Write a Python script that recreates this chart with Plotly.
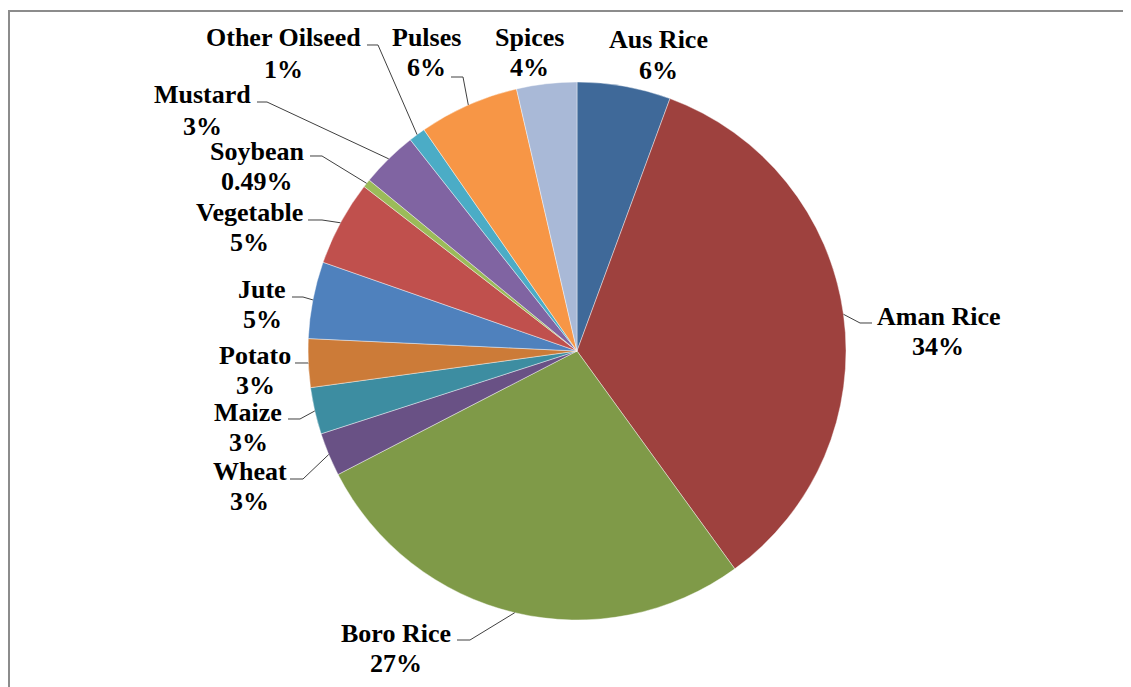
import numpy as np
import plotly.graph_objects as go

# ---------------- data ----------------
crops = ["Aus Rice", "Aman Rice", "Boro Rice", "Wheat", "Maize", "Potato", "Jute",
         "Vegetable", "Soybean", "Mustard", "Other Oilseed", "Pulses", "Spices"]
values = [5.6, 34.3, 27.3, 2.6, 2.8, 2.9, 4.6, 5.1, 0.49, 3.4, 1.0, 6.0, 3.6]
pct_labels = ["6%", "34%", "27%", "3%", "3%", "3%", "5%", "5%", "0.49%", "3%", "1%", "6%", "4%"]
colors = ["#3F6999", "#9E413E", "#7F9A48", "#695185", "#3D8DA1", "#CC7B38", "#4F81BD",
          "#C0504D", "#9BBB59", "#8064A2", "#4BACC6", "#F79646", "#A9B9D7"]

# ---------------- layout constants ----------------
W, H = 1131, 687
OFF = 8  # page body margin in the browser
CX, CY, R = 577, 351, 269
FONT = dict(family="Liberation Serif, Times New Roman, serif", size=26, color="black")

# label placement (screen pixels): name centre x, name centre y, percent centre y,
# leader elbow points (from text towards the slice), or None
label_pos = {
    "Aus Rice":      (658, 39, 70, None),
    "Aman Rice":     (938, 315, 345, [(872, 323), (860, 323)]),
    "Boro Rice":     (396, 632, 662, [(457, 640), (470, 640)]),
    "Wheat":         (250, 470, 500, [(290, 479), (303, 479)]),
    "Maize":         (248, 411, 441, [(288, 419), (300, 419)]),
    "Potato":        (255, 354, 385, [(295, 363), (308, 363)]),
    "Jute":          (262, 288, 318, [(292, 297), (303, 297)]),
    "Vegetable":     (249, 211, 241, [(308, 220), (322, 220)]),
    "Soybean":       (257, 150, 180, [(310, 156), (322, 156)]),
    "Mustard":       (202, 94, 125, [(257, 102), (267, 102)]),
    "Other Oilseed": (283, 37, 68, [(367, 45), (378, 45)]),
    "Pulses":        (426, 37, 67, [(451, 77), (463, 77)]),
    "Spices":        (529, 37, 67, None),
}


def px(x):
    return (x - OFF) / W


def py(y):
    return 1 - (y - OFF) / H


fig = go.Figure(go.Pie(
    labels=crops, values=values, sort=False, direction="clockwise", rotation=0,
    marker=dict(colors=colors, line=dict(color="rgba(255,255,255,0.7)", width=0.6)),
    textinfo="none", hoverinfo="label+percent", showlegend=False,
    domain=dict(x=[px(CX - R), px(CX + R)], y=[py(CY + R), py(CY - R)]),
))

vals = np.array(values, dtype=float)
cum = np.cumsum(vals)
mid = (cum - vals / 2) / vals.sum() * 2 * np.pi

annotations = []
shapes = []
for i, crop in enumerate(crops):
    cx, ny, pyy, leader = label_pos[crop]
    annotations.append(dict(x=px(cx), y=py(ny + 1), xref="paper", yref="paper", text="<b>%s</b>" % crop,
                            showarrow=False, xanchor="center", yanchor="middle", font=FONT))
    annotations.append(dict(x=px(cx), y=py(pyy + 1), xref="paper", yref="paper", text="<b>%s</b>" % pct_labels[i],
                            showarrow=False, xanchor="center", yanchor="middle", font=FONT))
    if leader:
        ex = CX + R * np.sin(mid[i])
        ey = CY - R * np.cos(mid[i])
        pts = leader + [(ex, ey)]
        path = "M " + " L ".join("%f %f" % (px(x), py(y)) for x, y in pts)
        shapes.append(dict(type="path", path=path, xref="paper", yref="paper",
                           line=dict(color="#404040", width=1)))

# outer chart border (cropped at right and bottom)
shapes.append(dict(type="rect", xref="paper", yref="paper", x0=px(9), x1=px(1250), y0=py(850), y1=py(11),
                   line=dict(color="#8C8C8C", width=2), fillcolor="rgba(0,0,0,0)", layer="below"))

fig.update_layout(
    width=W, height=H, margin=dict(l=0, r=0, t=0, b=0),
    paper_bgcolor="white", plot_bgcolor="white",
    annotations=annotations, shapes=shapes,
)

fig.write_html("out.html")
